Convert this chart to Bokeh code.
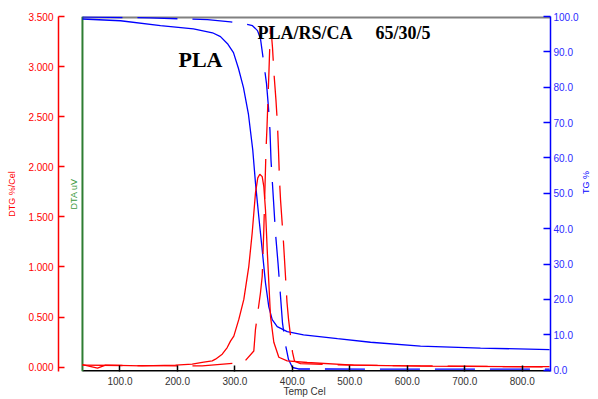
import math
from bokeh.plotting import figure
from bokeh.models import Range1d, LinearAxis, FixedTicker, PrintfTickFormatter, Label
from bokeh.embed import file_html
from bokeh.resources import INLINE

# ---------------- data ----------------
# PLA : TG (%) versus temperature (Cel)
pla_tg_temp = [34.7, 100.9, 170.5, 227.9, 261.0, 274.9, 287.1, 297.5, 306.2, 314.9, 323.6,
               331.1, 335.8, 341.6, 347.5, 353.2, 359.0, 364.9, 373.6, 391.0, 419.4, 478.5,
               536.0, 623.0, 727.4, 847.5]
pla_tg = [99.3, 98.8, 97.4, 96.5, 95.4, 94.3, 92.3, 89.8, 85.3, 79.9, 72.3,
          62.2, 52.9, 43.3, 34.0, 24.7, 17.9, 14.3, 12.3, 10.9, 10.0, 8.9,
          7.9, 6.8, 6.25, 5.8]

# PLA/RS/CA 65/30/5 : TG (%)
blend_tg_temp = [34.7, 153.0, 252.3, 292.3, 318.4, 330.6, 339.3, 344.5, 349.7, 355.0, 358.4,
                 361.0, 362.8, 367.1, 370.6, 375.0, 377.6, 382.8, 388.0, 393.3, 400.2, 410.6,
                 847.5]
blend_tg = [99.9, 99.6, 99.1, 98.5, 97.9, 97.4, 96.0, 93.7, 87.5, 81.0, 74.3,
            67.8, 59.4, 48.1, 38.8, 30.3, 24.7, 13.4, 7.2, 3.0, 0.76, 0.34,
            0.28]

# PLA : DTG (%/Cel)
pla_dtg_temp = [34.7, 60.8, 74.8, 138.6, 196.6, 225.7, 243.1, 260.5, 266.2, 277.9, 286.6,
                292.3, 298.1, 306.8, 315.5, 324.2, 330.1, 335.8, 339.8, 343.3, 347.5,
                350.3, 353.2, 356.2, 359.0, 361.9, 367.7, 376.4, 391.0, 425.8, 506.4,
                623.0, 847.5]
pla_dtg = [0.025, -0.01, 0.02, 0.013, 0.02, 0.03, 0.047, 0.063, 0.08, 0.13, 0.196,
           0.26, 0.31, 0.477, 0.676, 1.007, 1.342, 1.74, 1.889, 1.926, 1.902,
           1.803, 1.571, 1.173, 0.845, 0.51, 0.249, 0.099, 0.063, 0.047, 0.02,
           0.01, 0.005]

# PLA/RS/CA 65/30/5 : DTG (%/Cel)
blend_dtg_temp = [34.7, 153.1, 243.1, 301.0, 312.7, 332.9, 335.8, 344.5, 347.5, 350.3, 354.1,
                  355.8, 359.3, 360.7, 361.9, 363.7, 365.4, 368.0, 371.5, 374.1, 375.8,
                  377.6, 379.4, 384.6, 388.1, 390.6, 393.3, 400.2, 403.7, 414.1, 466.3,
                  588.2, 847.5]
blend_dtg = [0.02, 0.015, 0.013, 0.04, 0.03, 0.162, 0.378, 0.743, 0.908, 1.372, 2.168,
             2.39, 2.96, 3.21, 3.39, 3.31, 3.19, 2.93, 2.66, 2.42, 2.17,
             1.87, 1.67, 1.24, 0.90, 0.65, 0.48, 0.15, 0.06, 0.035, 0.025,
             0.015, 0.002]

x_ticks = [100, 200, 300, 400, 500, 600, 700, 800]
dtg_ticks = [0.0, 0.5, 1.0, 1.5, 2.0, 2.5, 3.0, 3.5]
tg_ticks = [0, 10, 20, 30, 40, 50, 60, 70, 80, 90, 100]

# temperature range of the recording (start of the DTA / temperature axes)
T_START = 34.7
T_END = 849.2
# the DTG axis stands a little to the left of the DTA axis
X_RANGE = (-7.0, T_END)
DTG_RANGE = (-0.043, 3.5)
TG_RANGE = (-0.37, 100.0)
DTA_LABEL_T = 20.8  # temperature position of the rotated "DTA uV" caption

# ---------------- styling ----------------
SANS = "Liberation Sans"
SERIF = "Liberation Serif"
RED = "#ff0000"
BLUE = "#0000ff"
GREEN_LINE = "#2e7d32"
GREEN_TEXT = "#3c9a3c"

p = figure(width=598, height=399,
           x_range=Range1d(*X_RANGE), y_range=Range1d(*DTG_RANGE),
           x_axis_location=None, y_axis_location=None,
           output_backend="svg", toolbar_location=None,
           min_border_left=58, min_border_right=48, min_border_top=16, min_border_bottom=27)
p.extra_y_ranges = {"tg": Range1d(*TG_RANGE)}
p.outline_line_color = None
p.background_fill_color = "white"
p.border_fill_color = "white"
p.xgrid.visible = False
p.ygrid.visible = False

# DTG (red) axis
dtg_axis = LinearAxis(ticker=FixedTicker(ticks=dtg_ticks),
                      formatter=PrintfTickFormatter(format="%.3f"),
                      axis_label="DTG %/Cel", axis_label_standoff=8,
                      axis_label_text_color=RED, axis_label_text_font=SANS,
                      axis_label_text_font_size="9px", axis_label_text_font_style="normal",
                      axis_line_color=RED, axis_line_width=1.5,
                      major_tick_line_color=RED, major_tick_line_width=1.5,
                      major_tick_in=6, major_tick_out=0, minor_tick_line_color=None,
                      major_label_standoff=5, major_label_text_color=RED,
                      major_label_text_font=SANS, major_label_text_font_size="10px")
p.add_layout(dtg_axis, "left")

# TG (blue) axis on the right
tg_axis = LinearAxis(y_range_name="tg", ticker=FixedTicker(ticks=tg_ticks),
                     formatter=PrintfTickFormatter(format="%.1f"),
                     axis_label="TG %", axis_label_standoff=4,
                     axis_label_orientation=math.pi / 2,
                     axis_label_text_color=BLUE, axis_label_text_font=SANS,
                     axis_label_text_font_size="9px", axis_label_text_font_style="normal",
                     axis_line_color=BLUE, axis_line_width=1.5,
                     major_tick_line_color=BLUE, major_tick_line_width=1.5,
                     major_tick_in=7, major_tick_out=0, minor_tick_line_color=None,
                     major_label_standoff=3, major_label_text_color="#2a2aff",
                     major_label_text_font=SANS, major_label_text_font_size="10px")
p.add_layout(tg_axis, "right")

# Temperature axis (bottom); its black line is drawn from T_START below
x_axis = LinearAxis(ticker=FixedTicker(ticks=x_ticks),
                    formatter=PrintfTickFormatter(format="%.1f"),
                    axis_label="Temp Cel", axis_label_standoff=-2,
                    axis_label_text_color="#333333", axis_label_text_font=SANS,
                    axis_label_text_font_size="10px", axis_label_text_font_style="normal",
                    axis_line_color=None,
                    major_tick_line_color="black", major_tick_line_width=1.5,
                    major_tick_in=6, major_tick_out=0, minor_tick_line_color=None,
                    major_label_standoff=5, major_label_text_color="#333333",
                    major_label_text_font=SANS, major_label_text_font_size="10px")
p.add_layout(x_axis, "below")

# bottom (black), top (grey) and DTA (green) lines of the measuring frame
p.segment(x0=[T_START], y0=[DTG_RANGE[0]], x1=[T_END], y1=[DTG_RANGE[0]],
          line_color="black", line_width=3)
p.segment(x0=[T_START], y0=[DTG_RANGE[1]], x1=[T_END], y1=[DTG_RANGE[1]],
          line_color="#808080", line_width=4)
p.segment(x0=[T_START], y0=[DTG_RANGE[0]], x1=[T_START], y1=[DTG_RANGE[1]],
          line_color=GREEN_LINE, line_width=2)
p.add_layout(Label(x=DTA_LABEL_T, y=(DTG_RANGE[0] + DTG_RANGE[1]) / 2, text="DTA uV",
                   angle=math.pi / 2, text_font=SANS, text_font_size="9px",
                   text_color=GREEN_TEXT, text_align="center", text_baseline="middle"))

# ---------------- curves ----------------
LW = 1.3
DASH = "40 15"
p.line(pla_tg_temp, pla_tg, y_range_name="tg", line_color=BLUE, line_width=LW)
p.line(blend_tg_temp, blend_tg, y_range_name="tg", line_color=BLUE, line_width=LW,
       line_dash=DASH)
p.line(pla_dtg_temp, pla_dtg, line_color=RED, line_width=LW)
p.line(blend_dtg_temp, blend_dtg, line_color=RED, line_width=LW, line_dash=DASH)

# ---------------- texts ----------------
p.add_layout(Label(x=201.8, y=3.069, text="PLA", text_font=SERIF, text_font_style="bold",
                   text_font_size="22px", text_color="black",
                   text_align="left", text_baseline="alphabetic"))
p.add_layout(Label(x=339.3, y=3.335, text="PLA/RS/CA", text_font=SERIF, text_font_style="bold",
                   text_font_size="18px", text_color="black",
                   text_align="left", text_baseline="alphabetic"))
p.add_layout(Label(x=544.7, y=3.335, text="65/30/5", text_font=SERIF, text_font_style="bold",
                   text_font_size="18px", text_color="black",
                   text_align="left", text_baseline="alphabetic"))

open("out.html", "w").write(file_html(p, INLINE))
